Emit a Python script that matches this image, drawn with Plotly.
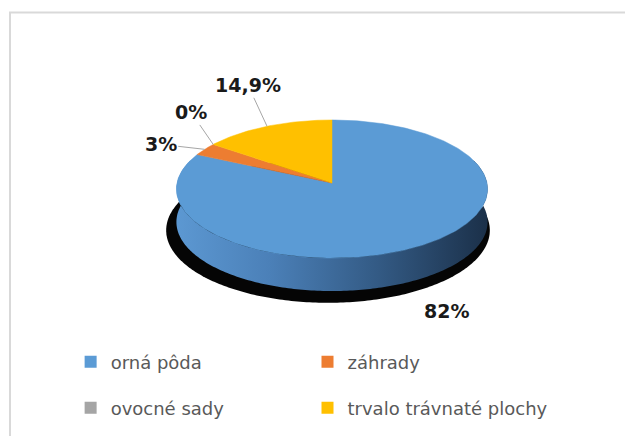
import math
import plotly.graph_objects as go

# ---- data ----
categories = ["orná pôda", "záhrady", "ovocné sady", "trvalo trávnaté plochy"]
values = [82, 3, 0, 14.9]
value_labels = ["82%", "3%", "0%", "14,9%"]
colors = ["#5b9bd5", "#ed7d31", "#a5a5a5", "#ffc000"]
legend_ids = ["legend", "legend2", "legend3", "legend4"]

# ---- geometry of the pseudo-3D pie (pixel space) ----
W, H = 625, 436
cx, cy0 = 332, 183      # projected pie centre
sx, sy = 155, 68.5      # projected radii
k = 0.087               # perspective strength
depth = 33              # thickness of the pie

def proj(theta_deg, scale=1.0, dy=0.0, dx=0.0, sxs=1.0, sys_=1.0):
    th = math.radians(theta_deg)
    u, v = scale * math.cos(th), scale * math.sin(th)
    w = 1 + k * v
    return cx + sx * sxs * u / w + dx, cy0 - sy * sys_ * v / w + dy

def arc(a0, a1, n=None, **kw):
    n = n or max(2, int(abs(a1 - a0)) + 2)
    xs, ys = [], []
    for i in range(n):
        a = a0 + (a1 - a0) * i / (n - 1)
        x, y = proj(a, **kw)
        xs.append(x); ys.append(y)
    return xs, ys

fig = go.Figure()

# shadow
xs, ys = arc(0, 360, 361, dy=depth + 8, dx=-4, sxs=1.04, sys_=1.05)
fig.add_trace(go.Scatter(x=xs, y=ys, fill="toself", mode="none",
                         fillcolor="#050505", showlegend=False, hoverinfo="skip"))

# side band (front rim)
tx, ty = arc(160, 380, 221)
bx, by = arc(380, 160, 221, dy=depth)
fig.add_trace(go.Scatter(x=tx + bx, y=ty + by, fill="toself", mode="none",
                         fillgradient=dict(type="horizontal",
                                           colorscale=[[0, "#5c98d2"], [0.3, "#4b80b8"],
                                                       [0.65, "#335a84"], [1, "#1b3049"]]),
                         showlegend=False, hoverinfo="skip"))

# top face slices
total = sum(values)
a0 = 90.0
mids = []
for cat, val, col in zip(categories, values, colors):
    a1 = a0 - val / total * 360
    mids.append((a0 + a1) / 2)
    if val > 0:
        xs, ys = arc(a0, a1)
        fig.add_trace(go.Scatter(x=[cx] + xs + [cx], y=[cy0] + ys + [cy0], fill="toself",
                                 mode="lines", line=dict(color=col, width=0.5),
                                 fillcolor=col, showlegend=False, hoverinfo="skip"))
    a0 = a1

# legend-only entries
for cat, col, lg in zip(categories, colors, legend_ids):
    fig.add_trace(go.Scatter(x=[None], y=[None], mode="markers", name=cat,
                             marker=dict(symbol="square", size=13, color=col),
                             legend=lg, showlegend=True))

# data labels
label_offsets = [(25, 65), (-44, -5), (-22, -32), (-19, -41)]
show_line = [False, True, True, True]
for lab, mid, (ax, ay), sl in zip(value_labels, mids, label_offsets, show_line):
    x, y = proj(mid)
    fig.add_annotation(x=x, y=y, ax=ax, ay=ay, text=f"<b>{lab}</b>",
                       showarrow=True, arrowhead=0, arrowwidth=1,
                       arrowcolor="#a6a6a6" if sl else "rgba(0,0,0,0)",
                       font=dict(family="DejaVu Sans", size=19, color="#1a1a1a"))

# chart border
fig.add_shape(type="rect", x0=10, y0=12.5, x1=W + 20, y1=H + 20,
              line=dict(color="#d9d9d9", width=2), layer="below")

leg_common = dict(orientation="h", xanchor="left", yanchor="middle",
                  font=dict(family="DejaVu Sans", size=18, color="#595959"),
                  itemsizing="constant", bgcolor="rgba(0,0,0,0)")

col_x = [0.113, 0.492]
row_y = [1 - 362 / H, 1 - 408 / H]
leg_layout = {}
for i, lg in enumerate(legend_ids):
    leg_layout[lg] = dict(x=col_x[i % 2], y=row_y[i // 2], **leg_common)

fig.update_layout(
    width=W, height=H,
    margin=dict(l=0, r=0, t=0, b=0),
    paper_bgcolor="white", plot_bgcolor="white",
    xaxis=dict(range=[0, W], visible=False, fixedrange=True),
    yaxis=dict(range=[H, 0], visible=False, fixedrange=True),
    hovermode=False,
    **leg_layout,
)

fig.write_html("out.html", config={"displayModeBar": False},
               post_script="document.body.style.margin='0';document.body.style.overflow='hidden';")
